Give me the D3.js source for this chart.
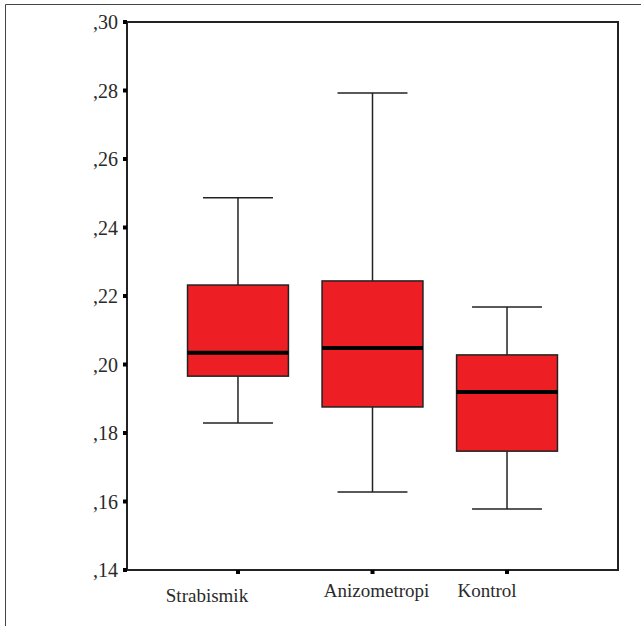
<!DOCTYPE html>
<html><head><meta charset="utf-8">
<script src="https://cdn.jsdelivr.net/npm/d3@7"></script>
<style>body{margin:0;background:#fff}svg{display:block}</style>
</head><body>
<svg id="c" width="641" height="626"></svg>
<script>
const categories = ["Strabismik", "Anizometropi", "Kontrol"];
const whiskerLow = [0.1829, 0.1628, 0.1578];
const q1 = [0.1966, 0.1876, 0.1747];
const median = [0.2034, 0.2048, 0.1920];
const q3 = [0.2232, 0.2244, 0.2028];
const whiskerHigh = [0.2487, 0.2793, 0.2168];
const yTicks = [0.14, 0.16, 0.18, 0.20, 0.22, 0.24, 0.26, 0.28, 0.30];

(function () {
const svg = d3.select("#c");
const mLeft = 127, mRight = 618, mTop = 22, mBottom = 570;
const FONT = "Liberation Serif";
const labelDx = [-31, 4, -20];
const labelY = [602, 597, 597];

svg.append("path").attr("d", "M5.5,626 L5.5,4.5 L641,4.5").attr("fill", "none").attr("stroke", "#444").attr("stroke-width", 1);

const y = d3.scaleLinear().domain([0.14, 0.30]).range([mBottom, mTop]);
const x = d3.scaleBand().domain(categories).range([mLeft, mRight]).paddingOuter(0.325).paddingInner(0);
const bw = x.bandwidth() * 0.75;
const capW = x.bandwidth() * 0.52;

const data = categories.map((c, i) => ({c, lo: whiskerLow[i], q1: q1[i], med: median[i], q3: q3[i], hi: whiskerHigh[i]}));

const g = svg.append("g");
data.forEach(d => {
  const cx = x(d.c) + x.bandwidth() / 2;
  g.append("line").attr("x1", cx).attr("x2", cx).attr("y1", y(d.hi)).attr("y2", y(d.q3)).attr("stroke", "#222").attr("stroke-width", 1.5);
  g.append("line").attr("x1", cx).attr("x2", cx).attr("y1", y(d.q1)).attr("y2", y(d.lo)).attr("stroke", "#222").attr("stroke-width", 1.5);
  g.append("line").attr("x1", cx - capW / 2).attr("x2", cx + capW / 2).attr("y1", y(d.hi)).attr("y2", y(d.hi)).attr("stroke", "#222").attr("stroke-width", 1.5);
  g.append("line").attr("x1", cx - capW / 2).attr("x2", cx + capW / 2).attr("y1", y(d.lo)).attr("y2", y(d.lo)).attr("stroke", "#222").attr("stroke-width", 1.5);
  g.append("rect").attr("x", cx - bw / 2).attr("y", y(d.q3)).attr("width", bw).attr("height", y(d.q1) - y(d.q3))
    .attr("fill", "#ED1F24").attr("stroke", "#222").attr("stroke-width", 1.5);
  g.append("line").attr("x1", cx - bw / 2).attr("x2", cx + bw / 2).attr("y1", y(d.med)).attr("y2", y(d.med)).attr("stroke", "#000").attr("stroke-width", 4);
});

svg.append("rect").attr("x", mLeft).attr("y", mTop).attr("width", mRight - mLeft).attr("height", mBottom - mTop)
  .attr("fill", "none").attr("stroke", "#222").attr("stroke-width", 2);

const fmt = v => "," + d3.format(".2f")(v).split(".")[1];
const yAxis = svg.append("g");
yTicks.forEach(t => {
  yAxis.append("rect").attr("x", mLeft - 4).attr("y", y(t) - 2).attr("width", 4).attr("height", 4).attr("fill", "#000");
  yAxis.append("text").attr("x", mLeft - 9).attr("y", y(t)).attr("dy", "0.35em").attr("text-anchor", "end")
    .attr("font-family", FONT).attr("font-size", 20).attr("fill", "#2a2a2a").text(fmt(t));
});

const xAxis = svg.append("g");
categories.forEach((c, i) => {
  const cx = x(c) + x.bandwidth() / 2;
  xAxis.append("rect").attr("x", cx - 2).attr("y", mBottom).attr("width", 4).attr("height", 4).attr("fill", "#000");
  xAxis.append("text").attr("x", cx + labelDx[i]).attr("y", labelY[i]).attr("text-anchor", "middle")
    .attr("font-family", FONT).attr("font-size", 19).attr("fill", "#2a2a2a").text(c);
});
})();
</script>
</body></html>
